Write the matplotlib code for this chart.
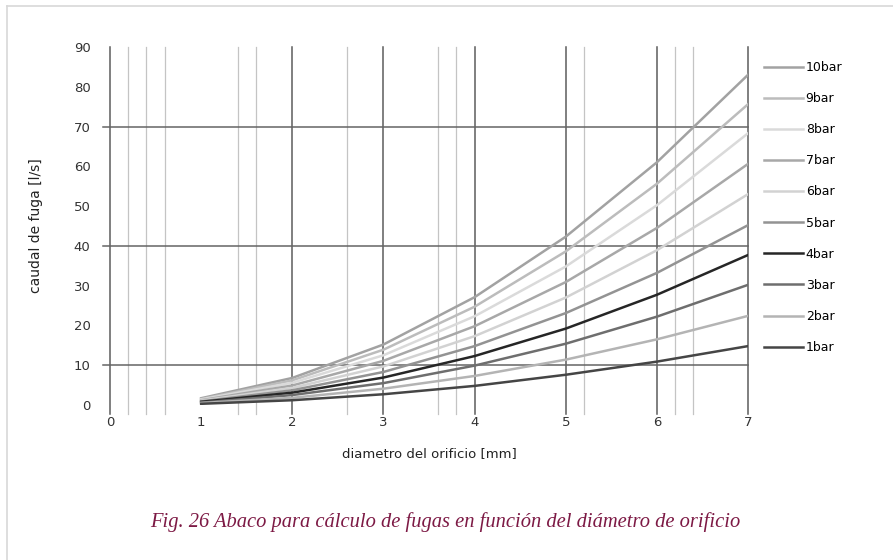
import matplotlib.pyplot as plt
import matplotlib.lines as mlines

diam = [1, 2, 3, 4, 5, 6, 7]

bar10 = [1.7, 6.8, 15.2, 27.1, 42.3, 61.0, 83.0]
bar9 = [1.5, 6.2, 13.9, 24.7, 38.6, 55.6, 75.6]
bar8 = [1.4, 5.6, 12.5, 22.3, 34.8, 50.2, 68.3]
bar7 = [1.2, 4.9, 11.1, 19.8, 30.9, 44.5, 60.6]
bar6 = [1.1, 4.3, 9.7, 17.3, 27.0, 38.9, 53.0]
bar5 = [0.9, 3.7, 8.3, 14.8, 23.1, 33.2, 45.2]
bar4 = [0.8, 3.1, 6.9, 12.3, 19.2, 27.7, 37.7]
bar3 = [0.6, 2.5, 5.5, 9.9, 15.4, 22.2, 30.2]
bar2 = [0.5, 1.8, 4.1, 7.3, 11.4, 16.5, 22.4]
bar1 = [0.3, 1.2, 2.7, 4.8, 7.6, 10.9, 14.8]

series = [bar10, bar9, bar8, bar7, bar6, bar5, bar4, bar3, bar2, bar1]
labels = ['10bar', '9bar', '8bar', '7bar', '6bar', '5bar', '4bar', '3bar', '2bar', '1bar']
colors = ['#a2a2a2', '#bcbcbc', '#dadada', '#a8a8a8', '#d2d2d2',
          '#939393', '#262626', '#6e6e6e', '#b4b4b4', '#454545']

major_x = [0, 2, 3, 4, 5, 6, 7]
minor_x = [0.2, 0.4, 0.6, 1.4, 1.6, 2.6, 3.6, 3.8, 5.2, 6.2, 6.4]
grid_y = [10, 40, 70]
yticks = [0, 10, 20, 30, 40, 50, 60, 70, 80, 90]
xticks = [0, 1, 2, 3, 4, 5, 6, 7]

fig = plt.figure(figsize=(8.93, 5.6), dpi=100)
ax = fig.add_axes([0.1232, 0.2768, 0.7144, 0.6393])

# grid lines like the excel chart (extend a bit past the plot area)
for x in minor_x:
    ax.plot([x, x], [-2.3, 90], color='#c4c4c4', lw=0.9, clip_on=False, zorder=1)
for x in major_x:
    ax.plot([x, x], [-2.3, 90], color='#5c5c5c', lw=1.1, clip_on=False, zorder=1)
for y in grid_y:
    ax.plot([-0.08, 7], [y, y], color='#646464', lw=1.1, clip_on=False, zorder=1)

for vals, lab, c in zip(series, labels, colors):
    ax.plot(diam, vals, color=c, lw=1.8, label=lab, zorder=3)

ax.set_xlim(0, 7)
ax.set_ylim(0, 90)
for s in ax.spines.values():
    s.set_visible(False)
ax.set_xticks(xticks)
ax.set_yticks(yticks)
ax.tick_params(length=0, labelsize=9.5, colors='#333333')
ax.tick_params(axis='x', pad=8)
ax.tick_params(axis='y', pad=14)

ax.set_xlabel('diametro del orificio [mm]', fontsize=9.5, color='#222222', labelpad=13)
ax.set_ylabel('caudal de fuga [l/s]', fontsize=10, color='#222222', labelpad=22)

ax.legend(loc='upper left', bbox_to_anchor=(1.018, 0.975), frameon=False,
          fontsize=9, labelspacing=1.45, handlelength=3.1, handletextpad=0.2,
          borderaxespad=0)

# light frame left/top of the picture
fig.add_artist(mlines.Line2D([0.008, 0.008], [0, 0.99], color='#d8d8d8', lw=1.2))
fig.add_artist(mlines.Line2D([0.008, 1], [0.99, 0.99], color='#d8d8d8', lw=1.2))

fig.text(0.499, 0.067, 'Fig. 26 Abaco para cálculo de fugas en función del diámetro de orificio',
         ha='center', va='center', fontsize=14.8, style='italic',
         family='Liberation Serif', color='#7d1a45')

fig.savefig('out.png', dpi=100)
